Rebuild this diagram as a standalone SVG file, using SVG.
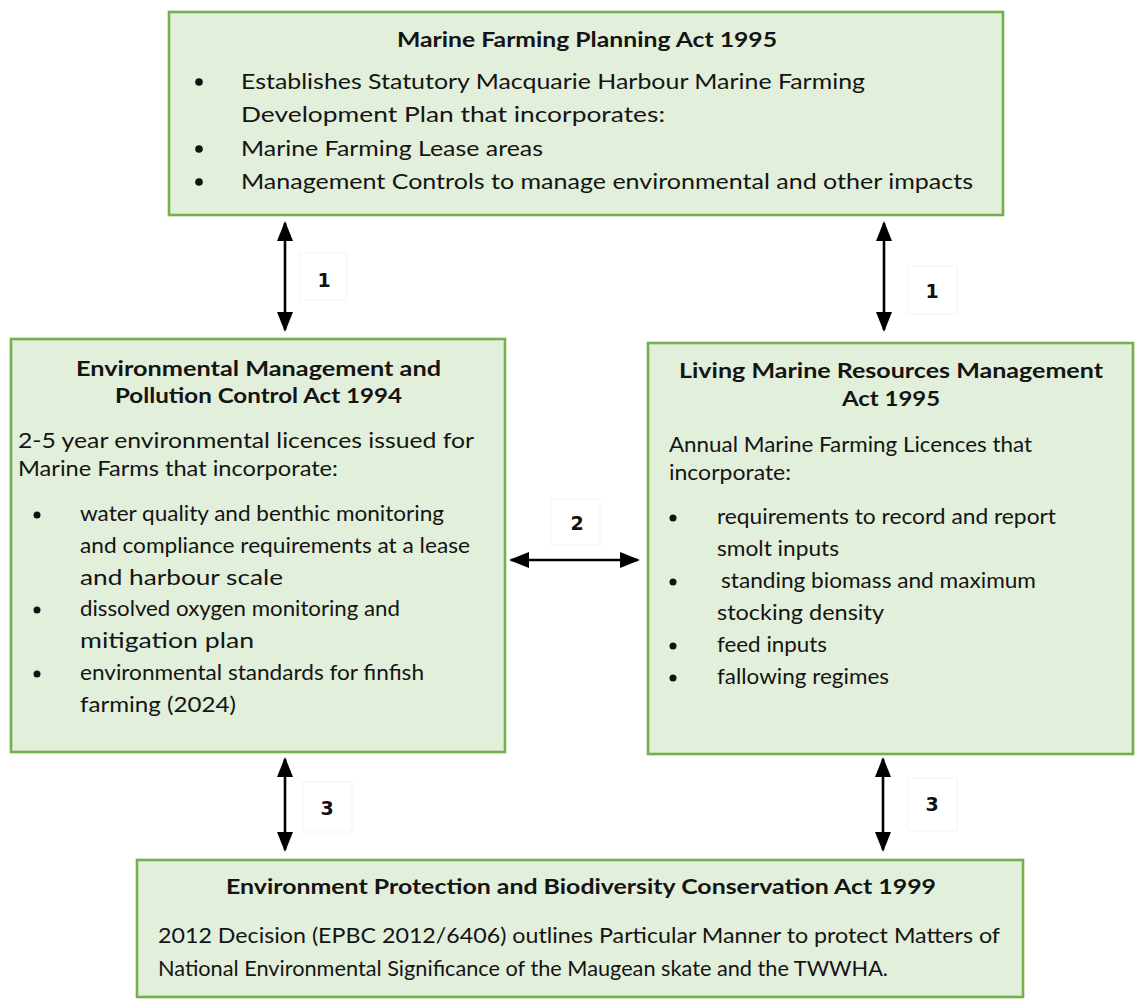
<svg xmlns="http://www.w3.org/2000/svg" width="1135" height="1003" viewBox="0 0 1135 1003">
  <style>
    .box { fill: #e2efda; stroke: #74b04c; stroke-width: 2.6; }
    .t { font-family: Lato, "Open Sans", "Liberation Sans", sans-serif; font-size: 21.5px; fill: #141414; }
    .h { font-weight: bold; font-size: 21px; }
    .dot { fill: #111; }
    .tag { fill: #ffffff; stroke: #f3f3f3; stroke-width: 1; }
    .num { font-family: "DejaVu Sans", Verdana, sans-serif; font-weight: bold; font-size: 19px; fill: #111; text-anchor: middle; }
    .link { stroke: #000; stroke-width: 2.6; fill: none; marker-start: url(#tip); marker-end: url(#tip); }
  </style>
  <defs>
    <marker id="tip" viewBox="0 0 20 16" refX="18" refY="8" markerWidth="20" markerHeight="16" markerUnits="userSpaceOnUse" orient="auto-start-reverse">
      <path d="M0,0 L20,8 L0,16 Z" fill="#000"/>
    </marker>
  </defs>

  <rect width="1135" height="1003" fill="#ffffff"/>

  <!-- Marine Farming Planning Act -->
  <g id="mfpa">
    <rect class="box" x="169" y="12" width="834" height="203"/>
    <text class="t h" x="397" y="47" textLength="380" lengthAdjust="spacingAndGlyphs">Marine Farming Planning Act 1995</text>
    <circle class="dot" cx="199" cy="82" r="3.8"/>
    <text class="t" x="241" y="89" textLength="624" lengthAdjust="spacingAndGlyphs">Establishes Statutory Macquarie Harbour Marine Farming</text>
    <text class="t" x="241" y="122" textLength="424" lengthAdjust="spacingAndGlyphs">Development Plan that incorporates:</text>
    <circle class="dot" cx="199" cy="149" r="3.8"/>
    <text class="t" x="241" y="156" textLength="302" lengthAdjust="spacingAndGlyphs">Marine Farming Lease areas</text>
    <circle class="dot" cx="199" cy="182" r="3.8"/>
    <text class="t" x="241" y="189" textLength="732" lengthAdjust="spacingAndGlyphs">Management Controls to manage environmental and other impacts</text>
  </g>

  <!-- Environmental Management and Pollution Control Act -->
  <g id="empca">
    <rect class="box" x="11" y="339" width="494" height="413"/>
    <text class="t h" x="76" y="376" textLength="365" lengthAdjust="spacingAndGlyphs">Environmental Management and</text>
    <text class="t h" x="115" y="403" textLength="287" lengthAdjust="spacingAndGlyphs">Pollution Control Act 1994</text>
    <text class="t" x="18" y="448" textLength="456" lengthAdjust="spacingAndGlyphs">2-5 year environmental licences issued for</text>
    <text class="t" x="18" y="476" textLength="320" lengthAdjust="spacingAndGlyphs">Marine Farms that incorporate:</text>
    <circle class="dot" cx="37" cy="515" r="3.5"/>
    <text class="t" x="80" y="521" textLength="364" lengthAdjust="spacingAndGlyphs">water quality and benthic monitoring</text>
    <text class="t" x="80" y="553" textLength="390" lengthAdjust="spacingAndGlyphs">and compliance requirements at a lease</text>
    <text class="t" x="80" y="585" textLength="203" lengthAdjust="spacingAndGlyphs">and harbour scale</text>
    <circle class="dot" cx="37" cy="610" r="3.5"/>
    <text class="t" x="80" y="616" textLength="320" lengthAdjust="spacingAndGlyphs">dissolved oxygen monitoring and</text>
    <text class="t" x="80" y="648" textLength="174" lengthAdjust="spacingAndGlyphs">mitigation plan</text>
    <circle class="dot" cx="37" cy="674" r="3.5"/>
    <text class="t" x="80" y="680" textLength="344" lengthAdjust="spacingAndGlyphs">environmental standards for finfish</text>
    <text class="t" x="80" y="712" textLength="156" lengthAdjust="spacingAndGlyphs">farming (2024)</text>
  </g>

  <!-- Living Marine Resources Management Act -->
  <g id="lmrma">
    <rect class="box" x="648" y="343" width="485" height="411"/>
    <text class="t h" x="679" y="378" textLength="424" lengthAdjust="spacingAndGlyphs">Living Marine Resources Management</text>
    <text class="t h" x="842" y="406" textLength="98" lengthAdjust="spacingAndGlyphs">Act 1995</text>
    <text class="t" x="669" y="452" textLength="363" lengthAdjust="spacingAndGlyphs">Annual Marine Farming Licences that</text>
    <text class="t" x="669" y="480" textLength="122" lengthAdjust="spacingAndGlyphs">incorporate:</text>
    <circle class="dot" cx="673" cy="518" r="3.5"/>
    <text class="t" x="717" y="524" textLength="339" lengthAdjust="spacingAndGlyphs">requirements to record and report</text>
    <text class="t" x="717" y="556" textLength="122" lengthAdjust="spacingAndGlyphs">smolt inputs</text>
    <circle class="dot" cx="673" cy="582" r="3.5"/>
    <text class="t" x="721" y="588" textLength="315" lengthAdjust="spacingAndGlyphs">standing biomass and maximum</text>
    <text class="t" x="717" y="620" textLength="167" lengthAdjust="spacingAndGlyphs">stocking density</text>
    <circle class="dot" cx="673" cy="646" r="3.5"/>
    <text class="t" x="717" y="652" textLength="110" lengthAdjust="spacingAndGlyphs">feed inputs</text>
    <circle class="dot" cx="673" cy="678" r="3.5"/>
    <text class="t" x="717" y="684" textLength="172" lengthAdjust="spacingAndGlyphs">fallowing regimes</text>
  </g>

  <!-- Environment Protection and Biodiversity Conservation Act -->
  <g id="epbca">
    <rect class="box" x="137" y="860" width="886" height="137"/>
    <text class="t h" x="226" y="894" textLength="710" lengthAdjust="spacingAndGlyphs">Environment Protection and Biodiversity Conservation Act 1999</text>
    <text class="t" x="158" y="943" textLength="842" lengthAdjust="spacingAndGlyphs">2012 Decision (EPBC 2012/6406) outlines Particular Manner to protect Matters of</text>
    <text class="t" x="158" y="976" textLength="730" lengthAdjust="spacingAndGlyphs">National Environmental Significance of the Maugean skate and the TWWHA.</text>
  </g>

  <!-- connectors -->
  <g id="connectors">
    <line class="link" x1="285" y1="223" x2="285" y2="330"/>
    <line class="link" x1="884" y1="223" x2="884" y2="330"/>
    <line class="link" x1="511" y1="560" x2="638" y2="560"/>
    <line class="link" x1="285" y1="759" x2="285" y2="850"/>
    <line class="link" x1="883" y1="759" x2="883" y2="850"/>

    <rect class="tag" x="300" y="253" width="47" height="47"/>
    <text class="num" x="324" y="287">1</text>
    <rect class="tag" x="908" y="266" width="49" height="48"/>
    <text class="num" x="932" y="298">1</text>
    <rect class="tag" x="551" y="499" width="49" height="46"/>
    <text class="num" x="577" y="530">2</text>
    <rect class="tag" x="303" y="782" width="49" height="50"/>
    <text class="num" x="327" y="815">3</text>
    <rect class="tag" x="908" y="778" width="49" height="53"/>
    <text class="num" x="932" y="811">3</text>
  </g>
</svg>
